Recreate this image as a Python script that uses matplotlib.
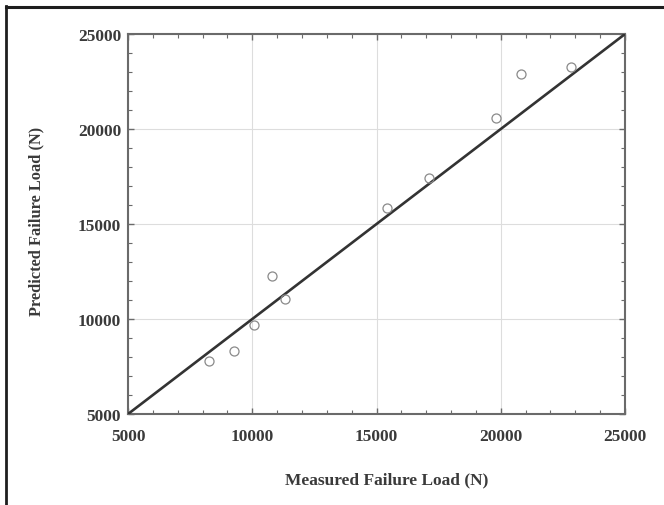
import numpy as np
import matplotlib
matplotlib.use("Agg")
import matplotlib.pyplot as plt
from matplotlib.lines import Line2D
from matplotlib.ticker import MultipleLocator

# measured vs predicted failure loads (N)
measured = [8250, 9250, 10070, 10800, 11300, 15430, 17130, 19810, 20800, 22840]
predicted = [7790, 8330, 9700, 12250, 11040, 15830, 17400, 20580, 22900, 23280]
ticks = [5000, 10000, 15000, 20000, 25000]

plt.rcParams['font.family'] = ['Liberation Serif', 'DejaVu Serif']
plt.rcParams['font.weight'] = 'bold'

fig = plt.figure(figsize=(6.64, 5.06), dpi=100)
ax = fig.add_axes([0.1928, 0.1798, 0.7485, 0.7510])

# grid
ax.grid(True, which='major', color='#dddddd', linewidth=0.8)
ax.set_axisbelow(True)

# 1:1 line
ax.plot([ticks[0], ticks[-1]], [ticks[0], ticks[-1]], color='#333333', linewidth=1.9,
        solid_capstyle='butt', zorder=3)
ax.plot(measured, predicted, linestyle='none', marker='o', markersize=6.5,
        markerfacecolor='none', markeredgecolor='#8a8a8a', markeredgewidth=0.9, zorder=4)

ax.set_xlim(ticks[0], ticks[-1])
ax.set_ylim(ticks[0], ticks[-1])
ax.set_xticks(ticks)
ax.set_yticks(ticks)
ax.xaxis.set_minor_locator(MultipleLocator(1000))
ax.yaxis.set_minor_locator(MultipleLocator(1000))

for s in ax.spines.values():
    s.set_color('#6a6a6a')
    s.set_linewidth(1.5)

ax.tick_params(which='both', direction='in', top=True, right=True, color='#6a6a6a',
               labelcolor='#3a3a3a', labelsize=12.5)
ax.tick_params(which='major', length=4, width=1)
ax.tick_params(which='minor', length=3, width=0.8)
ax.tick_params(axis='x', which='major', pad=10)
ax.tick_params(axis='y', which='major', pad=5)
for lab in ax.get_xticklabels() + ax.get_yticklabels():
    lab.set_fontweight('bold')

ax.set_xlabel('Measured Failure Load (N)', fontsize=12.5, fontweight='bold', color='#3a3a3a')
ax.set_ylabel('Predicted Failure Load (N)', fontsize=11.8, fontweight='bold', color='#3a3a3a')
ax.xaxis.set_label_coords(0.52, -0.152)
ax.yaxis.set_label_coords(-0.168, 0.51)

# border along top and left edges
fig.add_artist(Line2D([5.5 / 664, 1.0], [1 - 7.5 / 506, 1 - 7.5 / 506],
                      transform=fig.transFigure, color='#1e1e1e', linewidth=2.2))
fig.add_artist(Line2D([6 / 664, 6 / 664], [0.0, 1 - 6.5 / 506],
                      transform=fig.transFigure, color='#1e1e1e', linewidth=2.0))

fig.savefig('out.png', dpi=100)
